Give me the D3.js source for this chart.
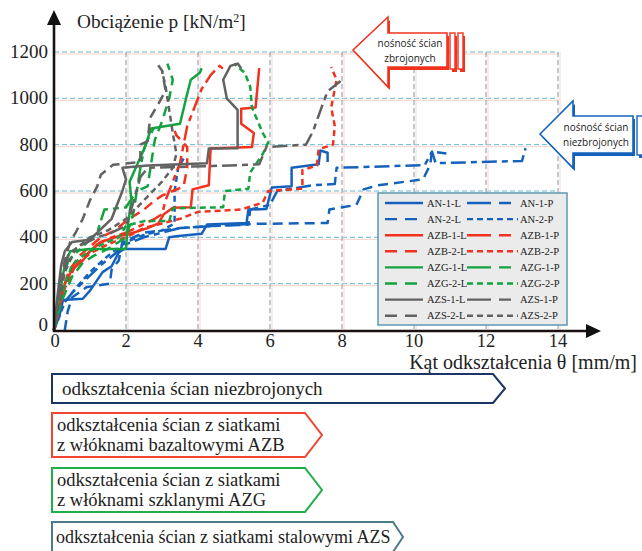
<!DOCTYPE html>
<html>
<head>
<meta charset="utf-8">
<script src="https://cdn.jsdelivr.net/npm/d3@7"></script>
<style>
  body { margin: 0; background: #fff; }
  svg { display: block; font-family: "Liberation Serif", "Times New Roman", serif; }
</style>
</head>
<body>
<svg id="chart" width="642" height="551"></svg>
<script>
// ticks
const xTicks = [0, 2, 4, 6, 8, 10, 12, 14];
const yTicks = [0, 200, 400, 600, 800, 1000, 1200];

// series: [theta (mm/m), p (kN/m2)]
const AN1L = [[0,0],[0.15,60],[0.25,130],[0.8,135],[1.0,170],[1.35,250],[1.6,275],[1.8,335],[1.95,350],[3.1,350],[3.2,400],[3.4,405],[4.1,415],[4.25,455],[5.35,462],[5.4,520],[5.9,522],[6.05,615],[6.6,620],[6.6,700],[7.35,715],[7.4,775],[7.6,765],[7.6,725]];
const AN2L = [[0.3,0],[0.38,80],[0.5,140],[0.9,185],[1.55,200],[1.6,260],[1.8,300],[1.9,380],[2.5,420],[3.0,430],[3.5,440],[4.5,450],[5.5,458],[7.6,462],[7.65,520],[8.4,540],[8.6,607],[9.0,625],[10.25,650],[10.45,713],[10.5,770],[10.9,762]];
const AN1P = [[0,0],[0.2,100],[0.5,160],[0.9,220],[1.3,280],[1.7,330],[2.0,370],[2.5,400],[3.0,420],[3.5,440],[4.0,445],[4.6,450],[5.4,455],[5.45,520],[6.0,540],[6.2,600],[7.2,625],[7.8,630],[7.85,700],[10.3,712],[10.5,770],[10.6,720],[13.0,730],[13.1,785]];
const AN2P = [[0,0],[0.3,120],[0.6,180],[1.0,250],[1.5,320],[2.0,380],[2.5,410],[3.0,430],[3.35,460],[3.35,600],[3.45,700],[3.6,740]];

const AZB1L = [[0,0],[0.15,100],[0.3,200],[0.5,260],[0.8,300],[1.0,340],[1.3,380],[1.7,400],[2.2,420],[2.6,440],[2.9,460],[3.05,500],[3.3,528],[3.8,530],[3.85,607],[4.3,625],[4.35,783],[5.5,790],[5.55,850],[5.2,890],[5.2,955],[5.6,960],[5.7,1130]];
const AZB2L = [[0,0],[0.2,150],[0.4,250],[0.7,320],[1.0,360],[1.3,400],[1.7,430],[2.0,470],[2.5,520],[2.8,560],[3.0,580],[3.6,620],[3.7,700],[3.7,790],[3.4,840],[3.3,880]];
const AZB1P = [[0,0],[0.25,170],[0.5,260],[0.8,310],[1.2,370],[1.6,400],[2.0,420],[2.4,450],[2.8,480],[3.0,500],[3.1,560],[3.3,640],[3.5,720],[3.6,800],[3.7,880],[3.9,960],[4.1,1040],[4.35,1100],[4.6,1140],[4.75,1120]];
const AZB2P = [[0,0],[0.3,180],[0.6,280],[1.0,330],[1.5,370],[2.0,400],[2.5,440],[3.0,460],[3.5,480],[4.0,510],[5.2,520],[5.8,550],[5.95,600],[6.9,610],[6.9,690],[7.3,710],[7.35,780],[7.75,800],[7.8,880],[7.7,960],[7.85,1080],[7.7,1135]];

const AZG1L = [[0,0],[0.15,150],[0.3,280],[0.45,340],[1.0,350],[2.0,350],[2.05,450],[2.15,560],[2.1,640],[2.5,780],[2.7,870],[3.5,890],[3.7,1020],[3.8,1080],[4.05,1110],[4.1,1130]];
const AZG2L = [[0,0],[0.2,120],[0.5,230],[0.8,290],[1.1,320],[1.5,350],[2.0,400],[2.2,500],[2.3,600],[2.6,620],[2.7,720],[2.8,820],[3.0,900],[3.2,1000],[3.3,1080],[3.15,1150]];
const AZG1P = [[0,0],[0.2,200],[0.4,300],[0.8,360],[1.2,420],[1.4,520],[2.0,530],[2.3,600],[2.4,700],[2.5,780],[2.6,820],[2.8,880]];
const AZG2P = [[0,0],[0.2,150],[0.5,280],[0.8,320],[1.2,360],[1.8,400],[2.0,450],[2.5,470],[3.2,470],[3.3,525],[4.7,530],[4.75,600],[5.4,610],[5.45,680],[5.8,760],[5.95,810],[5.8,850],[5.5,960],[5.45,1050],[5.3,1110],[5.0,1150]];

const AZS1L = [[0,0],[0.1,150],[0.2,280],[0.3,340],[0.5,380],[1.0,390],[1.2,420],[1.4,450],[1.6,480],[1.8,560],[1.9,600],[2.0,650],[1.9,700],[2.6,710],[4.25,720],[4.3,783],[5.1,785],[5.1,950],[4.8,1000],[4.7,1080],[4.9,1140],[5.1,1150],[5.2,1130]];
const AZS2L = [[0,0],[0.15,180],[0.3,300],[0.45,380],[0.6,420],[0.8,480],[1.0,560],[1.2,620],[1.3,670],[1.64,713],[2.4,725],[2.4,800],[2.6,815],[2.67,915],[2.95,990],[3.1,1034],[3.0,1120],[2.86,1150]];
const AZS1P = [[0,0],[0.2,200],[0.4,330],[0.8,370],[1.2,400],[1.6,420],[2.0,450],[2.2,550],[2.4,660],[2.6,700],[4.4,708],[5.7,715],[5.9,790],[7.0,800],[7.2,860],[7.5,990],[7.6,1030],[8.0,1080]];
const AZS2P = [[0,0],[0.3,250],[0.6,350],[1.0,400],[1.5,430],[2.0,480],[2.5,560],[3.0,640],[3.3,700],[3.4,760],[3.3,850],[3.2,950],[3.1,1050],[3.0,1120]];

const seriesNames = ["AN-1-L","AN-1-P","AN-2-L","AN-2-P","AZB-1-L","AZB-1-P","AZB-2-L","AZB-2-P",
                     "AZG-1-L","AZG-1-P","AZG-2-L","AZG-2-P","AZS-1-L","AZS-1-P","AZS-2-L","AZS-2-P"];
const seriesData = [AN1L, AN1P, AN2L, AN2P, AZB1L, AZB1P, AZB2L, AZB2P,
                    AZG1L, AZG1P, AZG2L, AZG2P, AZS1L, AZS1P, AZS2L, AZS2P];

const groupColor = { AN: "#1562bd", AZB: "#f0321e", AZG: "#13a23f", AZS: "#626262" };
const styleDash = { "1-L": null, "2-L": "10,6", "1-P": "15,5,6,5", "2-P": "6,4" };

const svg = d3.select("#chart");
const x = d3.scaleLinear().domain([0, 14]).range([54, 558]);
const y = d3.scaleLinear().domain([0, 1200]).range([330, 52]);

// grid
const grid = svg.append("g");
grid.selectAll(".gp").data(yTicks.slice(1)).enter().append("line")
  .attr("x1", x(0)).attr("x2", x(14)).attr("y1", d => y(d) + 2).attr("y2", d => y(d) + 2)
  .attr("stroke", "#f6d2cc").attr("stroke-width", 1);
grid.selectAll(".gh").data(yTicks.slice(1)).enter().append("line")
  .attr("x1", x(0)).attr("x2", x(14)).attr("y1", d => y(d)).attr("y2", d => y(d))
  .attr("stroke", "#62b8d6").attr("stroke-width", 1).attr("stroke-dasharray", "5,3");
grid.selectAll(".gv").data(xTicks.slice(1)).enter().append("line")
  .attr("x1", d => x(d)).attr("x2", d => x(d)).attr("y1", y(1200)).attr("y2", y(0))
  .attr("stroke", "#7f98a8").attr("stroke-width", 1).attr("stroke-dasharray", "5,3");
grid.selectAll(".gvp").data(xTicks.slice(1)).enter().append("line")
  .attr("x1", d => x(d) + 2).attr("x2", d => x(d) + 2).attr("y1", y(1200)).attr("y2", y(0))
  .attr("stroke", "#f6d8d2").attr("stroke-width", 1);

// curves
const line = d3.line().x(d => x(d[0])).y(d => y(d[1]));
const plot = svg.append("g").attr("fill", "none").attr("stroke-width", 2.5)
  .attr("stroke-linejoin", "round");
seriesData.forEach((s, i) => {
  const nm = seriesNames[i];
  const grp = nm.split("-")[0];
  const st = nm.slice(grp.length + 1);
  plot.append("path").attr("d", line(s))
    .attr("stroke", groupColor[grp])
    .attr("stroke-dasharray", styleDash[st]);
});

// axes
svg.append("line").attr("x1", 54).attr("x2", 54).attr("y1", 332).attr("y2", 22)
  .attr("stroke", "#1a1110").attr("stroke-width", 2.6);
svg.append("path").attr("d", "M54,10 L61,25 L47,25 Z").attr("fill", "#111");
svg.append("line").attr("x1", 53).attr("x2", 588).attr("y1", 331).attr("y2", 331)
  .attr("stroke", "#1a1110").attr("stroke-width", 2.6);
svg.append("path").attr("d", "M601,331 L586,324 L586,338 Z").attr("fill", "#111");

svg.append("g").selectAll("text").data(yTicks).enter().append("text")
  .attr("x", 48).attr("y", d => y(d) + (d === 0 ? 1 : 6)).attr("text-anchor", "end")
  .attr("font-size", 19).attr("fill", "#222").text(d => d);
svg.append("g").selectAll("text").data(xTicks).enter().append("text")
  .attr("x", d => x(d) + (d === 0 ? 1 : 0)).attr("y", 347).attr("text-anchor", "middle")
  .attr("font-size", 18.5).attr("fill", "#222").text(d => d);

const yt = svg.append("text").attr("x", 77).attr("y", 28).attr("font-size", 19.3).attr("fill", "#222");
yt.append("tspan").text("Obciążenie p [kN/m");
yt.append("tspan").attr("dy", -6).attr("font-size", 12).text("2");
yt.append("tspan").attr("dy", 6).text("]");
svg.append("text").attr("x", 637).attr("y", 369).attr("text-anchor", "end")
  .attr("font-size", 20).attr("fill", "#222").text("Kąt odkształcenia θ [mm/m]");

// legend
const lg = svg.append("g");
lg.append("rect").attr("x", 378).attr("y", 193).attr("width", 189).attr("height", 132)
  .attr("fill", "#ebebeb").attr("stroke", "#5a9cb4").attr("stroke-width", 1.5);
const legendOrder = ["AN-1-L","AN-1-P","AN-2-L","AN-2-P","AZB-1-L","AZB-1-P","AZB-2-L","AZB-2-P",
                     "AZG-1-L","AZG-1-P","AZG-2-L","AZG-2-P","AZS-1-L","AZS-1-P","AZS-2-L","AZS-2-P"];
legendOrder.forEach((nm, i) => {
  const row = Math.floor(i / 2), col = i % 2;
  const grp = nm.split("-")[0];
  const st = nm.slice(grp.length + 1);
  const ly = 203 + row * 16.1;
  const lx0 = col === 0 ? 385 : 467;
  const lx1 = col === 0 ? 423 : 518;
  lg.append("line").attr("x1", lx0).attr("x2", lx1).attr("y1", ly).attr("y2", ly)
    .attr("stroke", groupColor[grp]).attr("stroke-width", 2.4)
    .attr("stroke-dasharray", st === "2-L" ? "12,8" : st === "1-P" ? "24,8,12,8" : styleDash[st]);
  lg.append("text").attr("x", col === 0 ? 427 : 520).attr("y", ly + 3.5)
    .attr("font-size", 10.5).attr("fill", "#222").text(nm);
});

// callout arrows
function callout(pts, bars, color, lines, tx, ty) {
  const g = svg.append("g");
  const p = "M" + pts.map(q => q.join(",")).join("L") + "Z";
  g.append("path").attr("d", p).attr("transform", "translate(2,3)").attr("fill", color);
  bars.forEach(b => g.append("rect").attr("x", b[0] + 2).attr("y", b[1] + 3)
    .attr("width", b[2]).attr("height", b[3]).attr("fill", color));
  g.append("path").attr("d", p).attr("fill", "#fff").attr("stroke", color).attr("stroke-width", 1.6);
  bars.forEach(b => g.append("rect").attr("x", b[0]).attr("y", b[1])
    .attr("width", b[2]).attr("height", b[3]).attr("fill", "#fff")
    .attr("stroke", color).attr("stroke-width", 1.4));
  lines.forEach((t, k) => g.append("text").attr("x", tx).attr("y", ty + k * 14.5)
    .attr("text-anchor", "middle").attr("font-family", "'Open Sans', sans-serif")
    .attr("font-size", 10).attr("fill", "#222").text(t));
}
callout([[353,50],[388,17],[388,33],[447,33],[447,67],[388,67],[388,87]],
        [[450,33,5,36],[458,33,5,36]], "#f0321e", ["nośność ścian", "zbrojonych"], 410, 47);
callout([[540,134],[573,101],[573,116],[633,116],[633,153],[573,153],[573,168]],
        [[637,116,8,39]], "#1562bd", ["nośność ścian", "niezbrojonych"], 596, 131);

// bottom description arrows
const boxes = [
  { y0: 374, y1: 403, x1: 493, tip: 505, color: "#1b3566", lines: ["odkształcenia ścian niezbrojonych"], tx: 62, fs: 19 },
  { y0: 413, y1: 457, x1: 305, tip: 322, color: "#f0452e", lines: ["odkształcenia ścian z siatkami", "z włóknami bazaltowymi AZB"], tx: 57, fs: 18.5 },
  { y0: 468, y1: 512, x1: 305, tip: 322, color: "#1fae48", lines: ["odkształcenia ścian z siatkami", "z włóknami szklanymi AZG"], tx: 57, fs: 18.5 },
  { y0: 522, y1: 552, x1: 393, tip: 403, color: "#4c7a88", lines: ["odkształcenia ścian z siatkami stalowymi AZS"], tx: 56, fs: 18 }
];
boxes.forEach(b => {
  const m = (b.y0 + b.y1) / 2;
  svg.append("path")
    .attr("d", `M52,${b.y0}L${b.x1},${b.y0}L${b.tip},${m}L${b.x1},${b.y1}L52,${b.y1}Z`)
    .attr("fill", "#fff").attr("stroke", b.color).attr("stroke-width", 2);
  const n = b.lines.length;
  b.lines.forEach((t, k) => svg.append("text").attr("x", b.tx)
    .attr("y", m + 6 + (k - (n - 1) / 2) * 20)
    .attr("font-size", b.fs).attr("fill", "#222").text(t));
});
</script>
</body>
</html>
